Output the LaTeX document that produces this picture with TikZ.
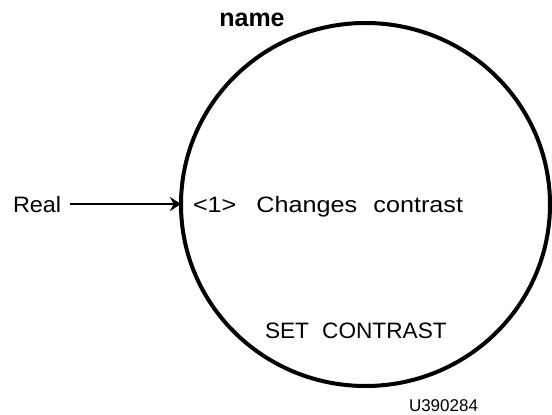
\documentclass[tikz,border=0pt]{standalone}
\usepackage{fontspec}
\setmainfont{Liberation Sans}
\usetikzlibrary{shapes.geometric,arrows.meta}
\tikzset{
  lbl/.style={inner sep=0pt, outer sep=0pt, font=\fontsize{22.3}{26}\selectfont},
  procbubble/.style={ellipse, draw, line width=4pt, inner sep=0pt, outer sep=0pt},
  flow/.style={line width=2pt, -{Stealth[length=11pt,width=14pt]}}
}
\begin{document}
\begin{tikzpicture}[x=1pt,y=-1pt]
\useasboundingbox (0,0) rectangle (552,415);
\node[procbubble, minimum width=369pt, minimum height=363pt] (proc) at (365.5,204.5) {};
\node[lbl, anchor=base, font=\fontsize{25}{28}\selectfont\bfseries] (name) at (252,26) {name};
\node[lbl, anchor=base west] (real) at (13,212) {\scalebox{1.05}[1]{Real}};
\node[lbl, anchor=base west] (desc) at (193,212) {\scalebox{1.13}[1]{<1>\hspace{17.7pt}Changes\hspace{14.3pt}contrast}};
\node[lbl, anchor=base west] (title) at (265,338) {\scalebox{1.015}[1]{SET\hspace{13pt}CONTRAST}};
\node[lbl, anchor=base west, font=\fontsize{17}{20}\selectfont] (code) at (409,411) {U390284};
\draw[flow] ([xshift=9pt]real.east) -- (real.east -| proc.west);
\end{tikzpicture}
\end{document}
